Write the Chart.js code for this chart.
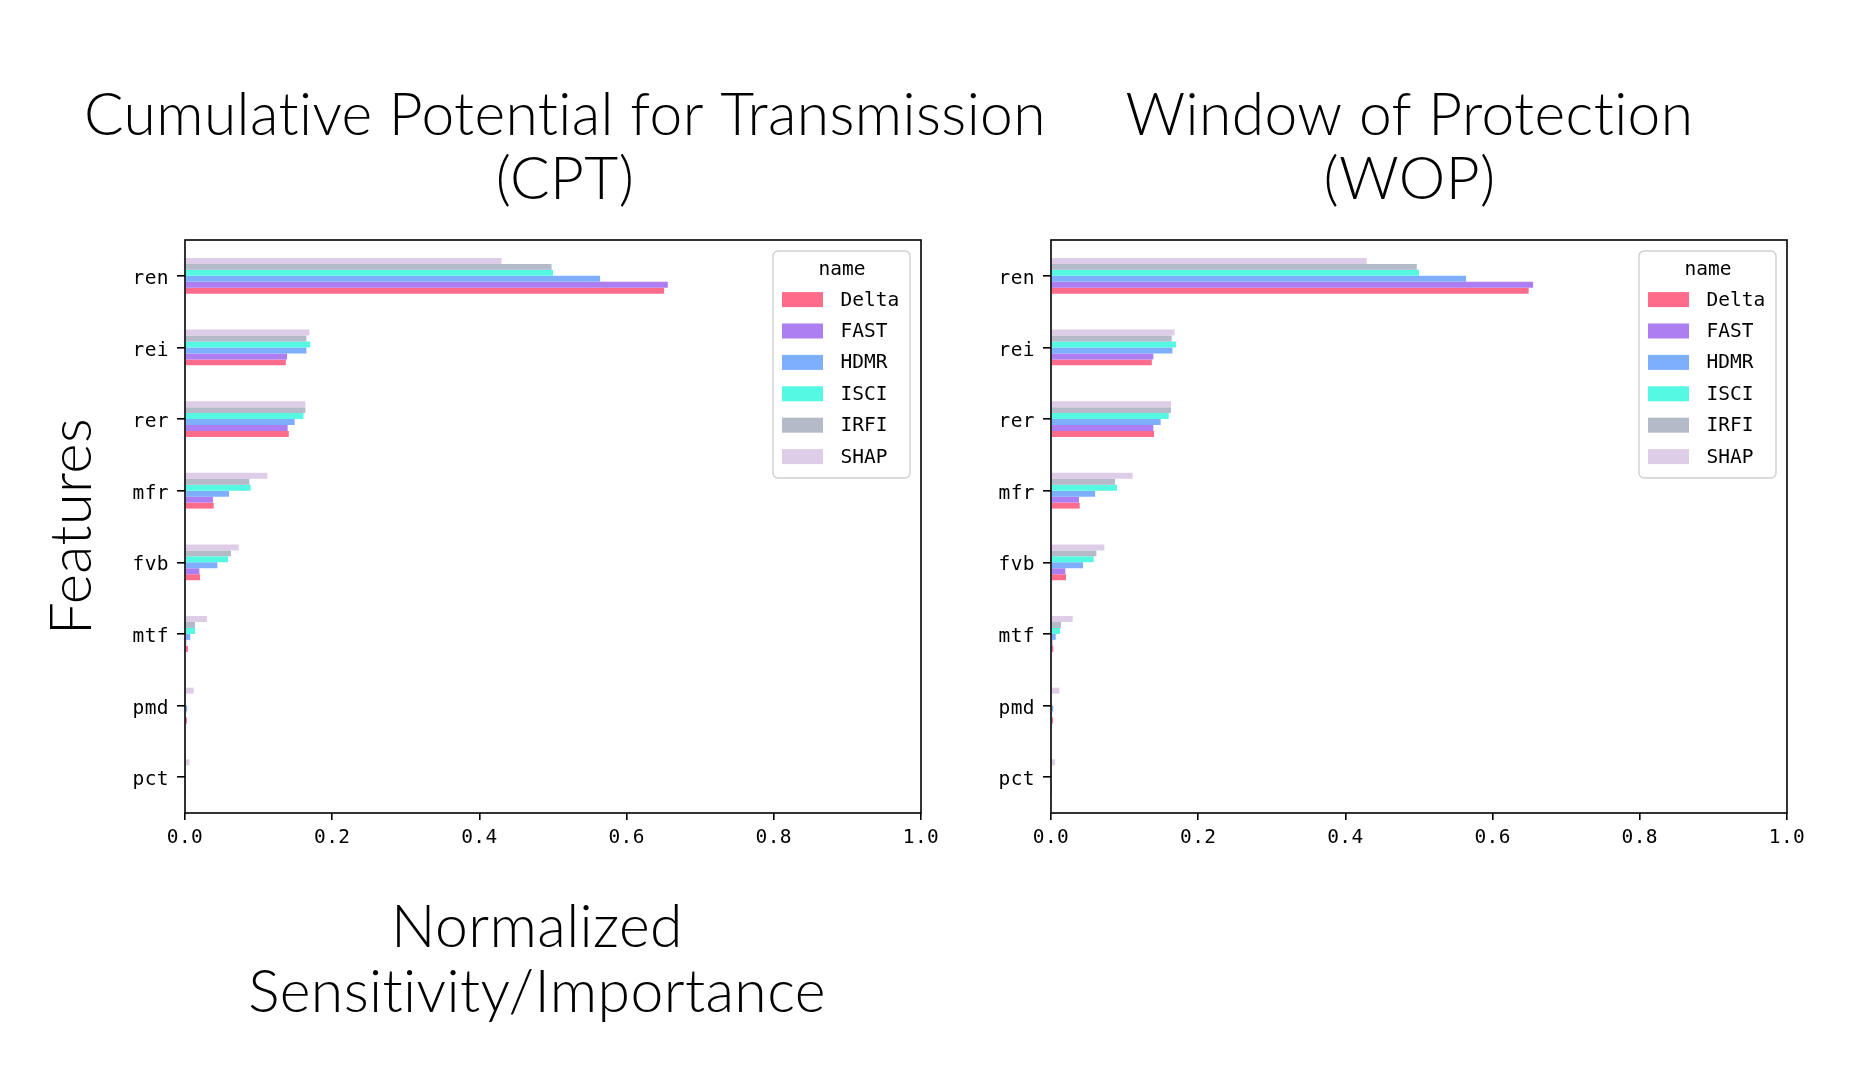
<!DOCTYPE html>
<html>
<head>
<meta charset="utf-8">
<script src="https://cdn.jsdelivr.net/npm/chart.js@4.4.1/dist/chart.umd.min.js"></script>
<style>
  html, body { margin: 0; padding: 0; background: #ffffff; width: 1849px; height: 1091px; overflow: hidden; }
  canvas { position: absolute; top: 0; }
  #cpt { left: 0px; }
  #wop { left: 970px; }
</style>
</head>
<body>
<canvas id="cpt" width="1130" height="1091"></canvas>
<canvas id="wop" width="879" height="1091"></canvas>
<script>
// ---------------- data ----------------
const features = ['ren', 'rei', 'rer', 'mfr', 'fvb', 'mtf', 'pmd', 'pct'];
const methods = ['Delta', 'FAST', 'HDMR', 'ISCI', 'IRFI', 'SHAP'];
const xTicks = [0.0, 0.2, 0.4, 0.6, 0.8, 1.0];

// Cumulative Potential for Transmission (CPT)
const cptDelta = [0.651, 0.137, 0.141, 0.039, 0.0205, 0.004, 0.0027, 0.0005];
const cptFAST  = [0.656, 0.1386, 0.1395, 0.038, 0.0196, 0.0017, 0.001, 0.0005];
const cptHDMR  = [0.564, 0.165, 0.149, 0.0598, 0.044, 0.0071, 0.003, 0.001];
const cptISCI  = [0.500, 0.170, 0.161, 0.0893, 0.0585, 0.0136, 0.001, 0.0005];
const cptIRFI  = [0.498, 0.165, 0.1636, 0.0875, 0.0625, 0.0136, 0.0005, 0.0003];
const cptSHAP  = [0.430, 0.169, 0.1636, 0.112, 0.073, 0.030, 0.0118, 0.006];

// Window of Protection (WOP)
const wopDelta = [0.649, 0.137, 0.140, 0.039, 0.0204, 0.003, 0.0027, 0.0005];
const wopFAST  = [0.655, 0.139, 0.139, 0.038, 0.0195, 0.002, 0.0005, 0.0005];
const wopHDMR  = [0.564, 0.165, 0.149, 0.060, 0.0435, 0.0064, 0.003, 0.001];
const wopISCI  = [0.500, 0.170, 0.160, 0.0897, 0.058, 0.0122, 0.001, 0.0005];
const wopIRFI  = [0.497, 0.164, 0.163, 0.087, 0.0617, 0.0136, 0.0005, 0.0003];
const wopSHAP  = [0.429, 0.168, 0.163, 0.111, 0.0725, 0.0295, 0.0113, 0.0054];

const cptTitle = ['Cumulative Potential for Transmission', '(CPT)'];
const wopTitle = ['Window of Protection', '(WOP)'];
const yLabel = 'Features';
const xLabel = ['Normalized', 'Sensitivity/Importance'];

// ---------------- styling ----------------
const methodColors = {
  Delta: '#ff6b8b',
  FAST:  '#ad7df2',
  HDMR:  '#7eafff',
  ISCI:  '#55f8e2',
  IRFI:  '#b4bac8',
  SHAP:  '#decde6'
};
const monoFont = '"DejaVu Sans Mono", monospace';
const titleFamily = 'Lato, "Open Sans", sans-serif';
const spacing = '0.4px';

function fitSize(text, targetW) {
  const c = document.createElement('canvas').getContext('2d');
  c.font = '300 100px ' + titleFamily;
  return 100 * targetW / c.measureText(text).width;
}
const titleSize = fitSize(wopTitle[0], 561);
const xLabelSize = fitSize(xLabel[1], 570);
const yLabelSize = fitSize(yLabel, 214);

// datasets ordered so that SHAP is the top bar in each group; legend shows reversed order
function buildDatasets(vals) {
  const order = ['SHAP', 'IRFI', 'ISCI', 'HDMR', 'FAST', 'Delta'];
  return order.map(name => ({
    label: name,
    data: vals[name],
    backgroundColor: methodColors[name],
    borderWidth: 0,
    categoryPercentage: 0.5,
    barPercentage: 1.0
  }));
}

const framePlugin = {
  id: 'frameAndLegend',
  beforeDraw(chart) {
    chart.ctx.letterSpacing = spacing; // avoids Lato "ti" ligatures
  },
  afterDatasetsDraw(chart, args, pluginOpts) {
    const { ctx, chartArea: a } = chart;
    ctx.save();
    ctx.letterSpacing = '0px';
    ctx.strokeStyle = '#000';
    ctx.lineWidth = 1.6;
    ctx.strokeRect(a.left, a.top, a.right - a.left, a.bottom - a.top);

    // legend (titled "name"), items in reverse dataset order
    const items = chart.data.datasets.slice().reverse();
    const boxW = 137, boxH = 227;
    const x0 = a.right - 11 - boxW, y0 = a.top + 11;
    ctx.beginPath();
    ctx.roundRect(x0, y0, boxW, boxH, 5);
    ctx.fillStyle = 'rgba(255,255,255,0.85)';
    ctx.fill();
    ctx.strokeStyle = '#d0d0d0';
    ctx.lineWidth = 1.4;
    ctx.stroke();

    ctx.font = '19.5px ' + monoFont;
    ctx.fillStyle = '#000';
    ctx.textAlign = 'center';
    ctx.textBaseline = 'middle';
    ctx.fillText('name', x0 + 69, y0 + 19);
    items.forEach((ds, i) => {
      const cy = y0 + 48.6 + i * 31.4;
      ctx.fillStyle = ds.backgroundColor;
      ctx.fillRect(x0 + 9, cy - 7.5, 41, 15);
      ctx.fillStyle = '#000';
      ctx.textAlign = 'left';
      ctx.fillText(ds.label, x0 + 67.5, cy + 1);
    });

    // shared x-axis label, slightly left of the axes centre as in the reference
    if (pluginOpts && pluginOpts.xLabel) {
      ctx.letterSpacing = spacing;
      ctx.font = '300 ' + xLabelSize + 'px ' + titleFamily;
      ctx.textAlign = 'center';
      ctx.textBaseline = 'alphabetic';
      const cx = (a.left + a.right) / 2 - 16;
      pluginOpts.xLabel.forEach((line, i) => {
        ctx.fillText(line, cx, a.bottom + 134 + i * 65);
      });
    }
    ctx.restore();
  }
};

function makeChart(id, vals, title, opts) {
  return new Chart(document.getElementById(id), {
    type: 'bar',
    data: { labels: features, datasets: buildDatasets(vals) },
    plugins: [framePlugin],
    options: {
      indexAxis: 'y',
      responsive: false,
      animation: false,
      devicePixelRatio: 1,
      layout: { padding: 0 },
      plugins: {
        legend: { display: false },
        tooltip: { enabled: false },
        frameAndLegend: { xLabel: opts.showX ? xLabel : null },
        title: {
          display: true,
          text: title,
          color: '#000',
          font: { family: titleFamily, weight: 300, size: titleSize, lineHeight: '64px' },
          padding: { top: 84, bottom: 28 }
        }
      },
      scales: {
        x: {
          min: 0, max: 1,
          afterBuildTicks(scale) { scale.ticks = xTicks.map(v => ({ value: v })); },
          afterFit(scale) { scale.height = 278; },
          ticks: {
            color: '#000',
            font: { family: monoFont, size: 19.5 },
            padding: 6,
            maxRotation: 0,
            callback: v => Number(v).toFixed(1)
          },
          grid: { display: true, drawOnChartArea: false, drawTicks: true, tickLength: 7, color: '#000', lineWidth: 1.6 },
          border: { display: false },
          title: { display: false }
        },
        y: {
          afterFit(scale) { scale.width = opts.yWidth; },
          ticks: {
            color: '#000',
            font: { family: monoFont, size: 19.5 },
            padding: 8,
            labelOffset: 3
          },
          grid: { display: true, offset: false, drawOnChartArea: false, drawTicks: true, tickLength: 8, color: '#000', lineWidth: 1.6 },
          border: { display: false },
          title: {
            display: opts.showY,
            text: yLabel,
            color: '#000',
            font: { family: titleFamily, weight: 300, size: yLabelSize, lineHeight: '52px' },
            padding: { top: 46, bottom: 0 }
          }
        },
        // empty spacer axis on the right so the title centres like the reference
        yRight: {
          type: 'linear',
          position: 'right',
          display: true,
          afterFit(scale) { scale.width = opts.rightWidth; },
          ticks: { display: false },
          grid: { display: false },
          border: { display: false }
        }
      }
    }
  });
}

makeChart('cpt',
  { Delta: cptDelta, FAST: cptFAST, HDMR: cptHDMR, ISCI: cptISCI, IRFI: cptIRFI, SHAP: cptSHAP },
  cptTitle, { rightWidth: 209, yWidth: 185, showX: true, showY: true });

makeChart('wop',
  { Delta: wopDelta, FAST: wopFAST, HDMR: wopHDMR, ISCI: wopISCI, IRFI: wopIRFI, SHAP: wopSHAP },
  wopTitle, { rightWidth: 62, yWidth: 81, showX: false, showY: false });
</script>
</body>
</html>
